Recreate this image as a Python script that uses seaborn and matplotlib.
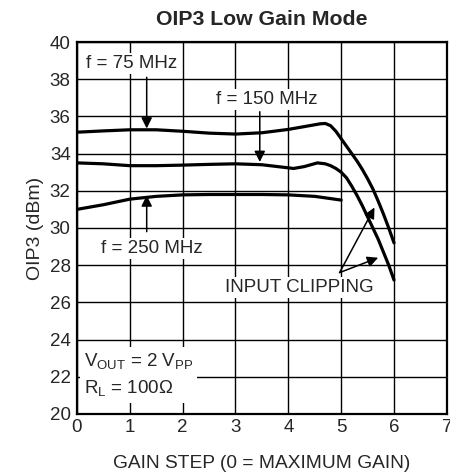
import numpy as np
import pandas as pd
import matplotlib
matplotlib.use("Agg")
import matplotlib.pyplot as plt
import seaborn as sns

# Curve data
step_75 = [0, 0.5, 1, 1.5, 2, 2.5, 3, 3.5, 4, 4.3, 4.6, 4.7, 4.8, 4.9, 5.0, 5.1, 5.2, 5.3,
           5.4, 5.5, 5.6, 5.7, 5.8, 5.9, 6.0]
oip3_75 = [35.15, 35.22, 35.28, 35.28, 35.2, 35.1, 35.05, 35.12, 35.3, 35.45, 35.6, 35.62, 35.5,
           35.2, 34.8, 34.4, 34.0, 33.6, 33.15, 32.65, 32.1, 31.45, 30.75, 30.0, 29.2]

step_150 = [0, 0.5, 1, 1.5, 2, 2.5, 3, 3.5, 3.8, 4.1, 4.3, 4.55, 4.7, 4.8, 4.9, 5.0, 5.1, 5.2,
            5.3, 5.4, 5.5, 5.6, 5.7, 5.8, 5.9, 6.0]
oip3_150 = [33.5, 33.45, 33.35, 33.35, 33.38, 33.42, 33.45, 33.4, 33.3, 33.2, 33.3, 33.5, 33.45,
            33.35, 33.2, 33.0, 32.7, 32.25, 31.75, 31.2, 30.6, 30.0, 29.4, 28.7, 28.0, 27.2]

step_250 = [0, 0.5, 1, 1.5, 2, 2.5, 3, 3.5, 4, 4.5, 5]
oip3_250 = [31.0, 31.25, 31.55, 31.7, 31.78, 31.8, 31.8, 31.8, 31.78, 31.7, 31.5]

x_ticks = [0, 1, 2, 3, 4, 5, 6, 7]
y_ticks = [20, 22, 24, 26, 28, 30, 32, 34, 36, 38, 40]

df = pd.concat([
    pd.DataFrame({"step": step_75, "oip3": oip3_75, "f": "75 MHz"}),
    pd.DataFrame({"step": step_150, "oip3": oip3_150, "f": "150 MHz"}),
    pd.DataFrame({"step": step_250, "oip3": oip3_250, "f": "250 MHz"}),
])

sns.set_style("white")
plt.rcParams['font.family'] = ['Liberation Sans', 'DejaVu Sans']
plt.rcParams['mathtext.fontset'] = 'custom'
plt.rcParams['mathtext.rm'] = 'Liberation Sans'

fig = plt.figure(figsize=(4.5, 4.72), dpi=100)
ax = fig.add_axes([0.171, 0.123, 0.822, 0.788])

sns.lineplot(data=df, x="step", y="oip3", units="f", estimator=None, sort=False,
             color="black", lw=2.3, ax=ax, legend=False)

ax.set_xlim(0, 7)
ax.set_ylim(20, 40)
ax.set_xticks(x_ticks)
ax.set_yticks(y_ticks)
ax.grid(True, color="black", lw=1.0)
ax.set_axisbelow(True)
for s in ax.spines.values():
    s.set_color("black")
    s.set_linewidth(1.6)
ax.tick_params(length=0, labelsize=13.5)
ax.tick_params(axis="y", pad=4.5)
ax.tick_params(axis="x", pad=4)

ax.set_title("OIP3 Low Gain Mode", fontsize=15.3, fontweight="bold", pad=12)
ax.set_ylabel("OIP3 (dBm)", fontsize=14, labelpad=4)
ax.set_xlabel("GAIN STEP (0 = MAXIMUM GAIN)", fontsize=13.8, labelpad=13)

fs = 13.5
box = dict(facecolor="white", edgecolor="none", pad=1.5)
arr = dict(arrowstyle="-|>", color="black", lw=1.1, mutation_scale=16,
           shrinkA=0, shrinkB=0)

ax.text(0.17, 38.85, "f = 75 MHz", fontsize=fs, va="center", ha="left", bbox=box)
ax.annotate("", xy=(1.32, 35.35), xytext=(1.32, 38.1), arrowprops=arr)

ax.text(3.6, 36.9, "f = 150 MHz", fontsize=fs, va="center", ha="center", bbox=box)
ax.annotate("", xy=(3.46, 33.55), xytext=(3.46, 36.25), arrowprops=arr)

ax.text(1.42, 28.9, "f = 250 MHz", fontsize=fs, va="center", ha="center", bbox=box)
ax.annotate("", xy=(1.32, 31.75), xytext=(1.32, 29.8), arrowprops=arr)

ax.text(4.2, 26.8, "INPUT CLIPPING", fontsize=fs, va="center", ha="center", bbox=box)
ax.annotate("", xy=(5.63, 31.1), xytext=(4.97, 27.6), arrowprops=arr)
ax.annotate("", xy=(5.7, 28.4), xytext=(4.97, 27.6), arrowprops=arr)

ax.text(0.13, 22.1, "V$_\\mathregular{OUT}$ = 2 V$_\\mathregular{PP}$\nR$_\\mathregular{L}$ = 100\u03a9",
        fontsize=fs, va="center", ha="left", linespacing=1.45,
        bbox=dict(facecolor="white", edgecolor="none", pad=3))

fig.savefig("out.png", dpi=100)
